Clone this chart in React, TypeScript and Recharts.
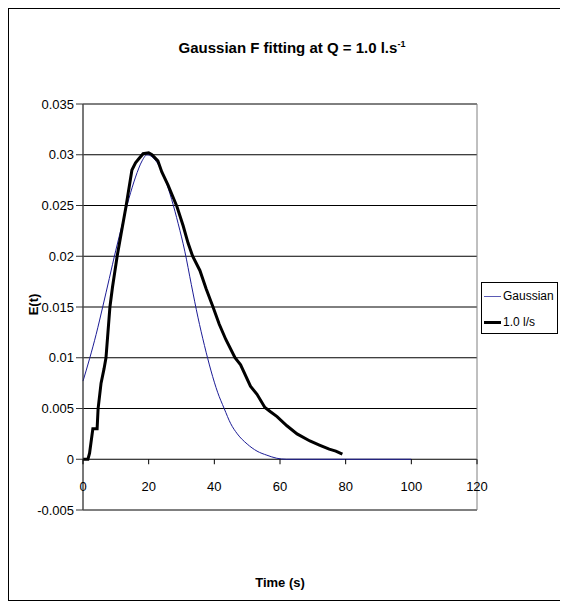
import React from "react";
import {
  LineChart,
  Line,
  XAxis,
  YAxis,
  CartesianGrid,
  ReferenceArea,
  Legend,
} from "recharts";

const FONT = "'Liberation Sans Narrow', 'Liberation Sans', Arial, sans-serif";

// Gaussian fit (thin blue)
const gaussianTime = [0, 2, 4, 6, 8, 10, 12, 14, 16, 18, 19.5, 21, 23, 25, 27, 29, 31, 33, 35, 37, 39, 41, 43, 45, 47, 50, 53, 56, 59, 62, 70, 80, 90, 100];
const gaussianE = [0.0077, 0.0099, 0.0123, 0.015, 0.0178, 0.0206, 0.0232, 0.0257, 0.0278, 0.0294, 0.03, 0.0298, 0.029, 0.0276, 0.0256, 0.0232, 0.0205, 0.0172, 0.014, 0.0112, 0.0087, 0.0066, 0.005, 0.0035, 0.0025, 0.0015, 0.0008, 0.0004, 0.0001, 0, 0, 0, 0, 0];

// measured 1.0 l/s (thick black)
const measuredTime = [0, 1, 1.5, 2, 3, 4.3, 4.6, 5.5, 6.4, 7, 8.2, 9, 10.4, 11.6, 13.1, 14.9, 16, 17, 18.3, 20, 21, 22.8, 24, 25.9, 28.6, 30.5, 32, 33.4, 35.6, 37.5, 39.6, 41.5, 43.5, 46.3, 48, 51, 53, 55.4, 57, 59.1, 62.1, 65.2, 69.1, 72, 75, 77, 79];
const measuredE = [0, 0, 0, 0.0006, 0.003, 0.003, 0.005, 0.0075, 0.0089, 0.01, 0.015, 0.017, 0.02, 0.0222, 0.0249, 0.0285, 0.0292, 0.0296, 0.0301, 0.0302, 0.03, 0.0294, 0.0283, 0.027, 0.0249, 0.023, 0.0213, 0.02, 0.0186, 0.0168, 0.015, 0.0133, 0.0118, 0.01, 0.0093, 0.0072, 0.0064, 0.0051, 0.0047, 0.0042, 0.0033, 0.0025, 0.0018, 0.0014, 0.001, 0.0008, 0.0005];

const xTicks = [0, 20, 40, 60, 80, 100, 120];
const yTicks = [-0.005, 0, 0.005, 0.01, 0.015, 0.02, 0.025, 0.03, 0.035];

const gaussianData = gaussianTime.map((t, i) => ({ t, e: gaussianE[i] }));
const measuredData = measuredTime.map((t, i) => ({ t, e: measuredE[i] }));

const PLOT_H = 406;

const XTick = (props: any) => {
  const { x, y, payload } = props;
  const zeroY = y - PLOT_H / 8;
  return (
    <g>
      <line x1={x} x2={x} y1={zeroY} y2={zeroY + 5} stroke="#000" />
      <text
        x={x}
        y={zeroY + 27}
        textAnchor="middle"
        dominantBaseline="central"
        fontSize={13}
        fontFamily={FONT}
        fill="#000"
      >
        {payload.value}
      </text>
    </g>
  );
};

const LegendBox = () => (
  <div
    style={{
      border: "1px solid #000",
      background: "#fff",
      height: 52,
      width: 77,
      boxSizing: "border-box",
      padding: "4px 0 0 2px",
      fontFamily: FONT,
      fontSize: 12,
      color: "#000",
      whiteSpace: "nowrap",
    }}
  >
    <div style={{ display: "flex", alignItems: "center", height: 18, marginBottom: 8 }}>
      <span style={{ display: "inline-block", width: 17, borderTop: "1px solid #5a5ab4", marginRight: 2 }} />
      Gaussian
    </div>
    <div style={{ display: "flex", alignItems: "center", height: 18 }}>
      <span style={{ display: "inline-block", width: 17, borderTop: "3px solid #000", marginRight: 2 }} />
      1.0 l/s
    </div>
  </div>
);

export default function App() {
  return (
    <div
      style={{
        position: "relative",
        width: 600,
        height: 593,
        border: "1px solid #000",
        boxSizing: "border-box",
        background: "#fff",
        fontFamily: FONT,
      }}
    >
      <style>{"html, body { overflow: hidden; }"}</style>
      <div
        style={{
          position: "absolute",
          top: 30,
          left: 0,
          width: 566,
          textAlign: "center",
          fontWeight: "bold",
          fontSize: 15,
        }}
      >
        Gaussian F fitting at Q = 1.0 l.s<sup style={{ fontSize: 9 }}>-1</sup>
      </div>
      <div
        style={{
          position: "absolute",
          top: 566,
          left: 74,
          width: 394,
          textAlign: "center",
          fontWeight: "bold",
          fontSize: 13,
        }}
      >
        Time (s)
      </div>
      <div
        style={{
          position: "absolute",
          left: 14,
          top: 288,
          transform: "rotate(-90deg)",
          fontWeight: "bold",
          fontSize: 13,
        }}
      >
        E(t)
      </div>
      <LineChart
        width={598}
        height={591}
        margin={{ top: 95, right: 130, bottom: 60, left: 0 }}
      >
        <CartesianGrid horizontal vertical={false} stroke="#000" strokeWidth={1} />
        <XAxis
          dataKey="t"
          type="number"
          domain={[0, 120]}
          ticks={xTicks}
          height={30}
          axisLine={false}
          tickLine={false}
          tickSize={0}
          tickMargin={0}
          tick={<XTick />}
          interval={0}
          allowDuplicatedCategory={false}
        />
        <YAxis
          type="number"
          domain={[-0.005, 0.035]}
          ticks={yTicks}
          width={74}
          interval={0}
          axisLine={{ stroke: "#333" }}
          tickLine={{ stroke: "#333" }}
          tickSize={7}
          tickMargin={2}
          tick={{ fontSize: 13, fontFamily: FONT, fill: "#000" }}
          tickFormatter={(v: number) => String(Number(v.toFixed(3)))}
        />
        <ReferenceArea
          x1={0}
          x2={120}
          y1={-0.005}
          y2={0.035}
          fill="none"
          stroke="#808080"
          ifOverflow="visible"
        />
        <Line
          data={gaussianData}
          dataKey="e"
          name="Gaussian"
          type="monotone"
          stroke="#1c1c96"
          strokeWidth={1}
          dot={false}
          isAnimationActive={false}
        />
        <Line
          data={measuredData}
          dataKey="e"
          name="1.0 l/s"
          type="linear"
          stroke="#000"
          strokeWidth={3}
          dot={false}
          isAnimationActive={false}
        />
        <Legend
          layout="vertical"
          align="center"
          verticalAlign="middle"
          content={<LegendBox />}
          wrapperStyle={{ left: 472, top: 273, width: 77 }}
        />
      </LineChart>
    </div>
  );
}
